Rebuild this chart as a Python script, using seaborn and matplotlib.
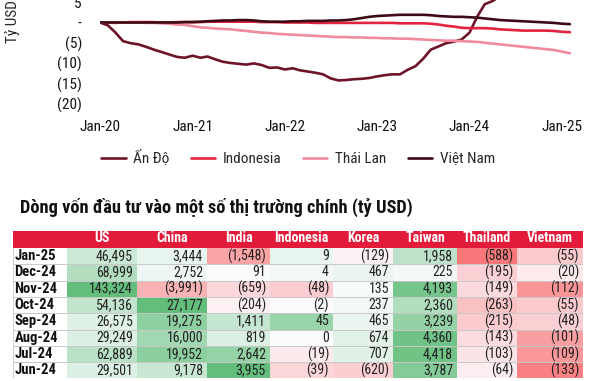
import pandas as pd
import numpy as np
import matplotlib.pyplot as plt
import matplotlib.dates as mdates
from matplotlib.ticker import FuncFormatter
from matplotlib.colors import LinearSegmentedColormap
import seaborn as sns

# Cumulative foreign flows (bn USD), monthly Jan-20 .. Feb-25
months = pd.date_range("2020-01-01", "2025-02-01", freq="MS")
an_do = [0, -0.7, -2.4, -4.6, -5.1, -5.4, -6.0, -6.7, -7.3, -7.9, -8.5, -8.7,
         -8.2, -8.7, -8.4, -9.1, -9.7, -10.0, -10.2, -10.4, -10.1, -10.5, -11.2, -11.1,
         -11.6, -11.3, -11.8, -12.1, -12.4, -12.8, -13.8, -14.3, -14.2, -14.0, -13.9, -13.7,
         -13.3, -13.0, -12.8, -12.8, -11.7, -10.8, -9.0, -6.7, -5.9, -5.1, -4.7, -4.2,
         -2.5, 1.5, 4.5, 5.3, 6.5, 8.0, 9.5, 11.0, 12.0, 11.5, 10.5, 9.5,
         9.0, 8.5]
indonesia = [0, 0.0, -0.1, 0.0, 0.1, 0.1, 0.1, 0.1, 0.0, 0.0, 0.1, 0.1,
             0.1, 0.1, 0.2, 0.2, 0.2, 0.2, 0.2, 0.2, 0.2, 0.1, 0.1, 0.1,
             0.0, 0.0, 0.0, 0.0, -0.1, -0.1, -0.1, -0.1, -0.1, -0.1, -0.1, -0.1,
             -0.1, -0.1, -0.1, -0.2, -0.2, -0.2, -0.2, -0.3, -0.5, -0.8, -1.0, -1.3,
             -1.4, -1.4, -1.4, -1.5, -1.7, -1.8, -1.9, -2.0, -2.0, -2.0, -2.0, -2.1,
             -2.3, -2.4]
thai_lan = [0, 0, 0.0, 0.0, 0.0, 0.0, -0.1, -0.1, -0.2, -0.3, -0.5, -0.6,
            -0.9, -1.2, -1.3, -1.5, -1.6, -1.7, -1.9, -2.1, -2.3, -2.5, -2.6, -2.8,
            -2.9, -3.0, -3.1, -3.2, -3.3, -3.4, -3.5, -3.6, -3.6, -3.7, -3.7, -3.8,
            -3.8, -3.9, -3.9, -4.0, -4.0, -4.1, -4.2, -4.3, -4.4, -4.5, -4.5, -4.6,
            -4.7, -4.8, -5.0, -5.2, -5.4, -5.6, -5.8, -6.0, -6.2, -6.4, -6.6, -6.8,
            -7.2, -7.6]
viet_nam = [0, 0, 0, 0, 0, 0, 0, 0, 0, 0, 0, 0.1,
            0.1, 0.2, 0.3, 0.4, 0.5, 0.5, 0.6, 0.6, 0.5, 0.3, 0.2, 0.2,
            0.2, 0.3, 0.3, 0.4, 0.4, 0.4, 0.5, 0.5, 0.6, 0.8, 1.1, 1.4,
            1.6, 1.7, 1.8, 1.9, 1.9, 1.9, 1.9, 1.8, 1.6, 1.5, 1.4, 1.4,
            1.3, 1.2, 1.0, 0.8, 0.6, 0.5, 0.4, 0.3, 0.2, 0.1, 0.0, -0.1,
            -0.3, -0.4]
series_names = ["Ấn Độ", "Indonesia", "Thái Lan", "Việt Nam"]
series_colors = ["#6E1428", "#E2233F", "#F08A9C", "#3D0B16"]

# Monthly flows table (mn USD)
table_rows = ["Jan-25", "Dec-24", "Nov-24", "Oct-24", "Sep-24", "Aug-24", "Jul-24", "Jun-24"]
table_cols = ["US", "China", "India", "Indonesia", "Korea", "Taiwan", "Thailand", "Vietnam"]
us = [46495, 68999, 143324, 54136, 26575, 29249, 62889, 29501]
china = [3444, 2752, -3991, 27177, 19275, 16000, 19952, 9178]
india = [-1548, 91, -659, -204, 1411, 819, 2642, 3955]
indo = [9, 4, -48, -2, 45, 0, -19, -39]
korea = [-129, 467, 135, 237, 465, 674, 707, -620]
taiwan = [1958, 225, 4193, 2360, 3239, 4360, 4418, 3787]
thailand = [-588, -195, -149, -263, -215, -143, -103, -64]
vietnam = [-55, -20, -112, -55, -48, -101, -109, -133]
table_vals = [us, china, india, indo, korea, taiwan, thailand, vietnam]
# colour scale extremes of each column (whole table, partly off-picture)
scale_lo = [-10000, -8000, -2600, -150, -2000, -1500, -650, -160]
scale_hi = [143324, 27177, 3955, 70, 4000, 4800, 500, 200]

W, H = 589, 381
sns.set_theme(style="white")
plt.rcParams["font.family"] = ["Roboto Condensed", "Archivo Narrow", "DejaVu Sans"]

fig = plt.figure(figsize=(W / 100, H / 100), dpi=100)


def rect(x0, x1, y0, y1):
    return [x0 / W, 1 - y1 / H, (x1 - x0) / W, (y1 - y0) / H]


# ---- line chart ----
ax = fig.add_axes(rect(100, 577, 103.5 - 182.25, 103.5))
df = pd.DataFrame({"month": months, "Ấn Độ": an_do, "Indonesia": indonesia,
                   "Thái Lan": thai_lan, "Việt Nam": viet_nam})
long = df.melt(id_vars="month", var_name="series", value_name="value")
sns.lineplot(data=long, x="month", y="value", hue="series", hue_order=series_names,
             palette=dict(zip(series_names, series_colors)), linewidth=1.9, ax=ax)
ax.set_xlim(pd.Timestamp("2020-01-01"), pd.Timestamp("2025-03-01"))
ax.set_ylim(-20, 25)
ax.set_yticks(range(-20, 6, 5))
ax.yaxis.set_major_formatter(FuncFormatter(
    lambda v, p: "-" if abs(v) < 1e-9 else (f"({abs(v):.0f})" if v < 0 else f"{v:.0f}")))
ax.xaxis.set_major_locator(mdates.YearLocator())
ax.xaxis.set_major_formatter(mdates.DateFormatter("%b-%y"))
ax.tick_params(axis="both", length=0, labelsize=11, colors="#111111")
ax.tick_params(axis="y", pad=13)
ax.tick_params(axis="x", pad=12)
ax.set_xlabel("")
ax.set_ylabel("")
for s in ax.spines.values():
    s.set_visible(False)
handles, labels = ax.get_legend_handles_labels()
ax.get_legend().remove()
fig.legend(handles, labels, loc="center", bbox_to_anchor=(298 / W, 1 - 158 / H), ncol=4,
           frameon=False, fontsize=11, handlelength=1.6, handletextpad=0.5, columnspacing=1.4)
fig.text(13 / W, 1 - 22 / H, "Tỷ USD", rotation=90, ha="center", va="center", fontsize=11)

# ---- table ----
fig.text(20 / W, 1 - 207 / H, "Dòng vốn đầu tư vào một số thị trường chính (tỷ USD)",
         ha="left", va="center", fontsize=13.2, fontweight="bold", color="#111111")

col_edges = [67, 137, 207, 270, 333, 393, 457, 517, 583]
top, row_h = 248, 16.3
n = len(table_rows)
bottom = top + n * row_h
grid = "#C8C8C8"

hdr = fig.add_axes(rect(13, 583, 231, top))
hdr.set_facecolor("#E31B3B")
hdr.set_xticks([])
hdr.set_yticks([])
for s in hdr.spines.values():
    s.set_visible(False)

lab = fig.add_axes(rect(13, col_edges[0], top, bottom))
lab.set_xlim(0, 1)
lab.set_ylim(n, 0)
lab.set_xticks([])
lab.set_yticks([])
for s in lab.spines.values():
    s.set_visible(False)
lab.axvline(0, color=grid, lw=1.2)
for i, r in enumerate(table_rows):
    lab.text(0.03, i + 0.5, r, ha="left", va="center", fontsize=10.5, fontweight="bold", color="#111111")
for i in range(1, n):
    lab.axhline(i, color=grid, lw=0.7)

cmap = LinearSegmentedColormap.from_list("xl_scale", ["#F8696B", "#FCFCFF", "#63BE7B"])


def fmt(v):
    if v < 0:
        return f"({abs(v):,})"
    return f"{v:,}"


for j, (name, vals) in enumerate(zip(table_cols, table_vals)):
    cax = fig.add_axes(rect(col_edges[j], col_edges[j + 1], top, bottom))
    shade = [v / scale_hi[j] if v > 0 else -v / scale_lo[j] for v in vals]
    sns.heatmap(pd.DataFrame({name: shade}), cmap=cmap, vmin=-1, vmax=1, cbar=False,
                xticklabels=[name], yticklabels=False, ax=cax)
    cax.xaxis.tick_top()
    cax.tick_params(axis="x", length=0, pad=2.5, labelsize=10)
    for t in cax.get_xticklabels():
        t.set_color("white")
        t.set_fontweight("bold")
    width = col_edges[j + 1] - col_edges[j]
    for i, v in enumerate(vals):
        cax.text(1 - 4 / width, i + 0.5, fmt(v), ha="right", va="center", fontsize=10, color="#222222")
    for i in range(1, n):
        cax.axhline(i, color=grid, lw=0.7)

fig.savefig("out.png", dpi=100, facecolor="white")
